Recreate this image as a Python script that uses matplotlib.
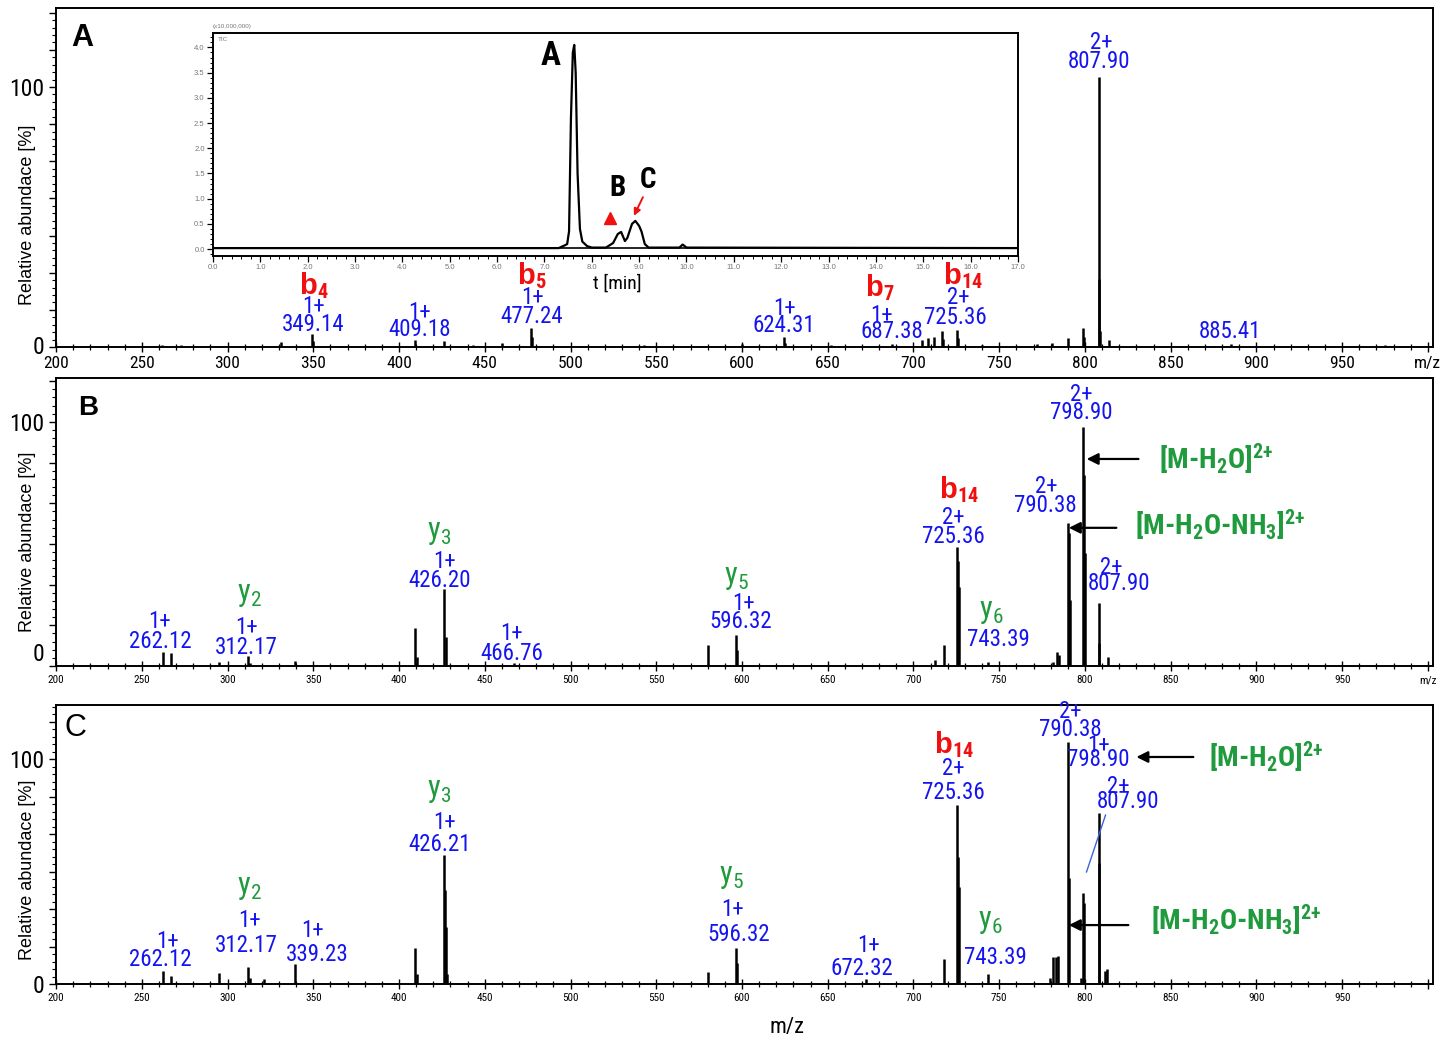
import matplotlib
matplotlib.use('Agg')
import matplotlib.pyplot as plt
from matplotlib import font_manager as fm
from matplotlib.ticker import MultipleLocator, FixedLocator, FixedFormatter

# ---------------- data ----------------
# inset chromatogram (TIC, x10,000,000) vs time [min]
chrom_time = [0.0, 7.30, 7.42, 7.48, 7.52, 7.56, 7.60, 7.63, 7.66, 7.70, 7.75, 7.80, 7.90,
              8.00, 8.30, 8.45, 8.55, 8.62, 8.70, 8.75, 8.85, 8.92, 9.00, 9.05, 9.12,
              9.20, 9.85, 9.92, 10.0, 17.0]
chrom_tic = [0.02, 0.02, 0.07, 0.10, 0.35, 2.60, 3.90, 4.05, 3.50, 1.50, 0.40, 0.15, 0.06,
             0.03, 0.03, 0.12, 0.30, 0.34, 0.16, 0.22, 0.50, 0.56, 0.46, 0.35, 0.10,
             0.03, 0.03, 0.09, 0.03, 0.02]

# spectrum A (peak A)
a_mz = [262, 273, 331, 349.14, 349.6, 409.18, 426.2, 443, 460, 477.24, 477.7, 543, 600,
        624.31, 624.8, 652, 687.38, 705, 708.5, 712, 716.5, 717, 725.36, 725.86, 740, 772,
        781, 790.38, 798.9, 799.4, 807.9, 808.4, 808.9, 814, 885.41, 975]
a_int = [0.6, 0.9, 1.8, 5.0, 2.2, 2.8, 2.4, 0.8, 1.4, 7.4, 3.8, 0.9, 1.3,
         3.8, 1.6, 0.6, 1.3, 2.8, 3.4, 4.0, 6.1, 3.2, 6.7, 3.6, 0.8, 1.0,
         1.4, 3.6, 7.2, 4.0, 104, 26, 6, 2.8, 1.0, 0.6]

# spectrum B (peak B)
b_mz = [262.12, 267.1, 295.1, 312.17, 313.2, 339.2, 409.5, 410.5, 426.2, 427.2, 466.76,
        580.3, 596.32, 597.3, 712.3, 717.6, 725.36, 725.86, 726.4, 743.39, 781.5, 783.5,
        784.6, 790.38, 790.88, 791.4, 798.9, 799.4, 799.9, 807.9, 808.4, 813.5]
b_int = [5.9, 5.5, 1.8, 4.1, 1.2, 2.2, 15.5, 3.6, 31.4, 12.0, 1.4,
         8.6, 12.7, 6.6, 2.5, 8.6, 48.8, 43.0, 32.4, 1.6, 1.6, 5.9,
         4.5, 58.6, 54.5, 27.0, 98.0, 78.3, 46.3, 25.8, 9.4, 3.7]

# spectrum C (peak C)
c_mz = [262.12, 267.1, 295.1, 312.17, 313.2, 321.0, 339.23, 409.5, 410.5, 426.21, 426.71,
        427.2, 428.2, 580.3, 596.32, 597.3, 672.32, 717.6, 725.36, 725.86, 726.4, 743.39,
        779.5, 781.3, 783.0, 784.5, 790.38, 790.88, 797.5, 798.9, 799.4, 807.9, 808.4,
        811.5, 813.0]
c_int = [5.8, 3.7, 5.0, 7.7, 2.7, 2.4, 8.9, 15.9, 4.3, 57.3, 41.8,
         25.2, 4.3, 5.5, 15.9, 9.5, 2.2, 11.0, 79.6, 56.6, 43.2, 4.4,
         2.7, 12.1, 12.0, 12.4, 107.7, 47.0, 2.7, 40.3, 36.0, 76.1, 53.8,
         5.8, 6.7]

x_ticks = [200, 250, 300, 350, 400, 450, 500, 550, 600, 650, 700, 750, 800, 850, 900, 950, 1000]
x_labels_ab = ['200', '250', '300', '350', '400', '450', '500', '550', '600', '650', '700',
               '750', '800', '850', '900', '950', 'm/z']
x_labels_c = ['200', '250', '300', '350', '400', '450', '500', '550', '600', '650', '700',
              '750', '800', '850', '900', '950', '']
chrom_xticks = [0.0, 1.0, 2.0, 3.0, 4.0, 5.0, 6.0, 7.0, 8.0, 9.0, 10.0, 11.0, 12.0, 13.0,
                14.0, 15.0, 16.0, 17.0]
chrom_yticks = [0.0, 0.5, 1.0, 1.5, 2.0, 2.5, 3.0, 3.5, 4.0]

# ---------------- fonts ----------------
_names = {f.name for f in fm.fontManager.ttflist}
NARROW = None
for cand in ['Liberation Sans Narrow', 'Arial Narrow', 'Roboto Condensed',
             'Noto Sans Condensed', 'Open Sans Condensed', 'DejaVu Sans Condensed']:
    if cand in _names:
        NARROW = cand
        break
if NARROW is None:
    NARROW = 'Liberation Sans'
    K = 0.88          # shrink regular font to approximate condensed widths
else:
    K = 1.0

plt.rcParams['font.family'] = ['Liberation Sans', 'DejaVu Sans']
plt.rcParams['mathtext.fontset'] = 'custom'
plt.rcParams['mathtext.rm'] = NARROW
plt.rcParams['mathtext.it'] = NARROW + ':italic'
plt.rcParams['mathtext.bf'] = NARROW + ':bold'

# ---------------- styles ----------------
BLUE = '#1414f0'
RED = '#f01010'
GREEN = '#1f9a3c'

fig = plt.figure(figsize=(14.41, 10.38), dpi=100)


def make_axes(rect, ytop, ystep):
    ax = fig.add_axes(rect)
    ax.set_xlim(200, 1003)
    ax.set_ylim(0, ytop)
    for s in ax.spines.values():
        s.set_linewidth(1.4)
    ax.xaxis.set_minor_locator(MultipleLocator(10))
    ax.tick_params(axis='x', which='major', direction='inout', length=7, width=1.0,
                   top=False, pad=3)
    ax.tick_params(axis='x', which='minor', direction='inout', length=5, width=0.9, top=False)
    majors = []
    v = 0.0
    while v <= ytop:
        majors.append(v)
        v += ystep
    labels = ['0' if abs(m) < 1e-6 else ('100' if abs(m - 100) < 1e-3 else '') for m in majors]
    ax.yaxis.set_major_locator(FixedLocator(majors))
    ax.yaxis.set_major_formatter(FixedFormatter(labels))
    ax.yaxis.set_minor_locator(MultipleLocator(ystep / 5))
    ax.tick_params(axis='y', which='major', direction='out', length=5, width=1.0, right=False)
    ax.tick_params(axis='y', which='minor', direction='out', length=3, width=0.8, right=False)
    for lab in ax.get_yticklabels():
        lab.set_fontfamily(NARROW)
        lab.set_fontsize(17 * K)
    return ax


def blue(ax, x, y, s, size=16.5):
    ax.text(x, y, s, color=BLUE, fontsize=size * K, family=NARROW, ha='center', va='center')


def redb(ax, x, y, sub):
    ax.text(x, y, 'b$_\\mathbf{%s}$' % sub, color=RED, fontsize=21, fontweight='bold',
            ha='center', va='center')


def greeny(ax, x, y, sub):
    ax.text(x, y, 'y$_{%s}$' % sub, color=GREEN, fontsize=22 * K, family=NARROW,
            ha='center', va='center')


def greenbig(ax, x, y, s):
    ax.text(x, y, s, color=GREEN, fontsize=20.5 * K, fontweight='bold', family=NARROW,
            ha='center', va='center')


def arrow(ax, tail, head):
    ax.annotate('', xy=head, xytext=tail,
                arrowprops=dict(arrowstyle='-|>', color='black', lw=1.6, mutation_scale=17,
                                shrinkA=0, shrinkB=0))


MH2O = '[M-H$_\\mathbf{2}$O]$^{\\mathbf{2{+}}}$'
MH2ONH3 = '[M-H$_\\mathbf{2}$O-NH$_\\mathbf{3}$]$^{\\mathbf{2{+}}}$'

# ---------------- panel A ----------------
axA = make_axes([0.0389, 0.6657, 0.9556, 0.3266], 130.4, 100 / 7)
axA.vlines(a_mz, 0, a_int, color='black', lw=1.8)
axA.set_xticks(x_ticks, labels=x_labels_ab)
for lab in axA.get_xticklabels():
    lab.set_fontfamily(NARROW)
    lab.set_fontsize(12.5 * K)
axA.yaxis.get_major_ticks()[0].label1.set_verticalalignment('center')
axA.text(215, 119, 'A', fontsize=22, fontweight='bold', ha='center', va='center')
blue(axA, 809.6, 117.3, '2+'); blue(axA, 808.4, 110.0, '807.90')
redb(axA, 350.2, 23.5, '4'); blue(axA, 350.2, 15.4, '1+'); blue(axA, 350.2, 8.5, '349.14')
blue(axA, 411.9, 13.1, '1+'); blue(axA, 411.9, 6.9, '409.18')
redb(axA, 477.7, 27.3, '5'); blue(axA, 477.7, 18.9, '1+'); blue(axA, 477.1, 11.9, '477.24')
blue(axA, 624.5, 15.0, '1+'); blue(axA, 624.5, 8.1, '624.31')
redb(axA, 680.3, 22.9, '7'); blue(axA, 681.5, 12.3, '1+'); blue(axA, 687.3, 5.8, '687.38')
redb(axA, 728.7, 27.5, '14'); blue(axA, 726.3, 19.2, '2+'); blue(axA, 724.6, 11.2, '725.36')
blue(axA, 884.7, 5.8, '885.41')

# inset chromatogram
axI = fig.add_axes([0.1478, 0.7537, 0.5586, 0.2142])
axI.plot(chrom_time, chrom_tic, color='black', lw=1.6)
axI.axhline(0.02, color='black', lw=1.2)
axI.set_xlim(0, 17)
axI.set_ylim(-0.13, 4.28)
for s in axI.spines.values():
    s.set_linewidth(1.4)
axI.set_xticks(chrom_xticks, labels=['%.1f' % t for t in chrom_xticks])
axI.set_yticks(chrom_yticks, labels=['%.1f' % t for t in chrom_yticks])
axI.xaxis.set_minor_locator(MultipleLocator(0.2))
axI.yaxis.set_minor_locator(MultipleLocator(0.1))
axI.tick_params(which='both', labelsize=5.5, labelcolor='#777777', direction='out',
                top=False, right=False, pad=2)
axI.tick_params(which='major', length=4, width=0.9)
axI.tick_params(which='minor', length=2.5, width=0.7)
axI.text(0.0, 1.02, '(x10,000,000)', transform=axI.transAxes, fontsize=4.5,
         color='#777777', ha='left', va='bottom')
axI.text(0.006, 0.985, 'TIC', transform=axI.transAxes, fontsize=4.5, color='#777777',
         ha='left', va='top')
axI.text(7.14, 3.83, 'A', fontsize=24 * K, fontweight='bold', family=NARROW,
         ha='center', va='center')
axI.text(8.55, 1.21, 'B', fontsize=21 * K, fontweight='bold', family=NARROW,
         ha='center', va='center')
axI.text(9.19, 1.37, 'C', fontsize=21 * K, fontweight='bold', family=NARROW,
         ha='center', va='center')
axI.plot([8.38], [0.62], marker='^', color=RED, markersize=8)
axI.annotate('', xy=(8.89, 0.66), xytext=(9.08, 1.03),
             arrowprops=dict(arrowstyle='-|>', color=RED, lw=1.4, mutation_scale=10,
                             shrinkA=0, shrinkB=0))
fig.text(617 / 1441, 1 - 284 / 1038, 't [min]', fontsize=14 * K, family=NARROW,
         ha='center', va='center')

# ---------------- panel B ----------------
axB = make_axes([0.0389, 0.3584, 0.9556, 0.2775], 118.0, 100 / 6)
axB.vlines(b_mz, 0, b_int, color='black', lw=1.8)
axB.set_xticks(x_ticks, labels=x_labels_ab)
for lab in axB.get_xticklabels():
    lab.set_fontfamily(NARROW)
    lab.set_fontsize(8)
axB.yaxis.get_major_ticks()[0].label1.set_verticalalignment('bottom')
axB.text(218.6, 105.7, 'B', fontsize=20, fontweight='bold', ha='center', va='center')
blue(axB, 798.0, 111.1, '2+'); blue(axB, 798.0, 103.7, '798.90')
arrow(axB, (831.2, 84.8), (801.0, 84.8)); greenbig(axB, 876.6, 84.8, MH2O)
blue(axB, 777.6, 73.4, '2+'); blue(axB, 777.0, 65.6, '790.38')
arrow(axB, (818.3, 56.6), (790.6, 56.6)); greenbig(axB, 878.9, 57.8, MH2ONH3)
blue(axB, 815.4, 40.2, '2+'); blue(axB, 820.1, 33.6, '807.90')
redb(axB, 726.3, 72.1, '14'); blue(axB, 723.4, 60.7, '2+'); blue(axB, 723.4, 52.9, '725.36')
greeny(axB, 745.6, 22.5, '6'); blue(axB, 749.6, 10.7, '743.39')
greeny(axB, 596.5, 36.1, '5'); blue(axB, 600.6, 25.8, '1+'); blue(axB, 599.4, 18.4, '596.32')
blue(axB, 465.5, 13.5, '1+'); blue(axB, 465.5, 5.3, '466.76')
greeny(axB, 423.6, 54.5, '3'); blue(axB, 426.5, 43.0, '1+'); blue(axB, 423.6, 35.2, '426.20')
greeny(axB, 313.0, 29.1, '2'); blue(axB, 311.2, 15.6, '1+'); blue(axB, 311.2, 7.4, '312.17')
blue(axB, 260.6, 18.4, '1+'); blue(axB, 260.6, 10.2, '262.12')

# ---------------- panel C ----------------
axC = make_axes([0.0389, 0.0520, 0.9556, 0.2688], 124.0, 100 / 6)
axC.vlines(c_mz, 0, c_int, color='black', lw=1.8)
axC.set_xticks(x_ticks, labels=x_labels_c)
for lab in axC.get_xticklabels():
    lab.set_fontfamily(NARROW)
    lab.set_fontsize(8)
axC.yaxis.get_major_ticks()[0].label1.set_verticalalignment('center_baseline')
axC.text(211.1, 113.8, 'C', fontsize=22, ha='center', va='center')
blue(axC, 791.6, 120.9, '2+'); blue(axC, 791.6, 112.9, '790.38')
blue(axC, 807.9, 106.2, '1+'); blue(axC, 807.9, 99.6, '798.90')
blue(axC, 819.5, 88.0, '2+'); blue(axC, 825.3, 81.3, '807.90')
axC.plot([812.0, 800.9], [75.1, 49.8], color='#3c64dc', lw=1.0)
arrow(axC, (863.2, 100.9), (830.0, 100.9)); greenbig(axC, 905.7, 100.9, MH2O)
arrow(axC, (825.3, 26.2), (790.6, 26.2)); greenbig(axC, 888.2, 28.4, MH2ONH3)
redb(axC, 723.4, 106.2, '14'); blue(axC, 723.4, 96.0, '2+'); blue(axC, 723.4, 85.3, '725.36')
greeny(axC, 745.0, 27.6, '6'); blue(axC, 747.9, 12.0, '743.39')
greeny(axC, 593.6, 48.0, '5'); blue(axC, 594.2, 33.3, '1+'); blue(axC, 598.3, 21.8, '596.32')
blue(axC, 674.0, 16.9, '1+'); blue(axC, 669.9, 6.7, '672.32')
greeny(axC, 423.6, 86.2, '3'); blue(axC, 426.5, 72.0, '1+'); blue(axC, 423.6, 61.8, '426.21')
greeny(axC, 313.0, 43.1, '2'); blue(axC, 313.0, 28.4, '1+'); blue(axC, 311.2, 16.9, '312.17')
blue(axC, 349.6, 24.0, '1+'); blue(axC, 352.5, 13.3, '339.23')
blue(axC, 265.2, 19.1, '1+'); blue(axC, 260.6, 11.1, '262.12')

# axis titles
for yc in (215, 542, 870):
    fig.text(28 / 1441, 1 - yc / 1038, 'Relative abundace [%]', rotation=90, fontsize=13,
             ha='center', va='center')
fig.text(787 / 1441, 1 - 1027 / 1038, 'm/z', fontsize=16 * K, family=NARROW,
         ha='center', va='center')

fig.savefig('out.png', dpi=100)
